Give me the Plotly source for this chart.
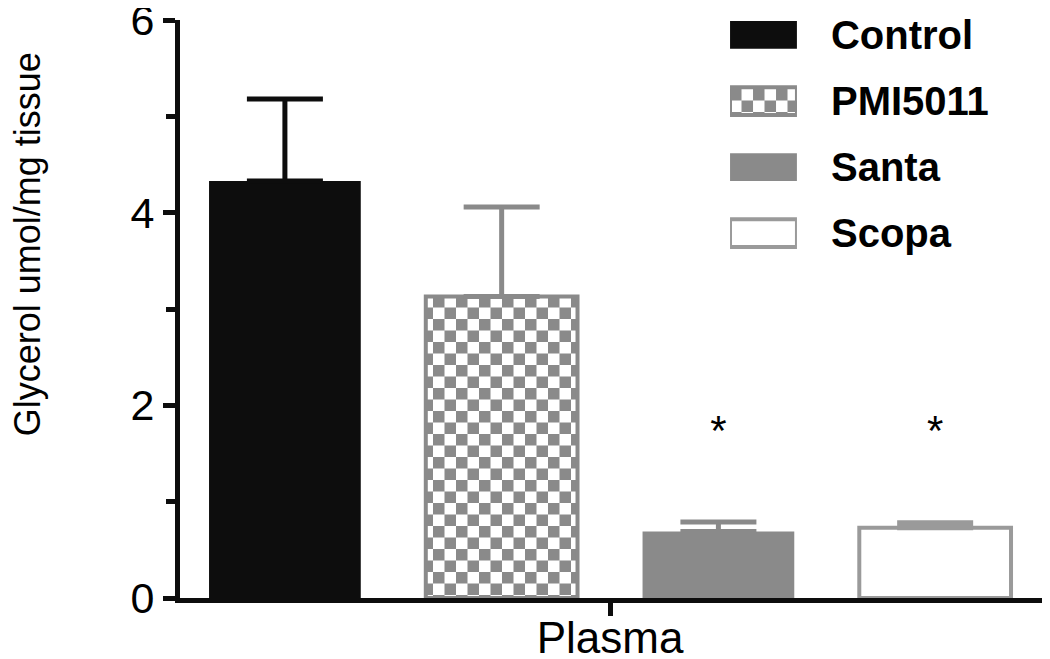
import plotly.graph_objects as go

# Values.
GROUP = "Plasma"
SERIES = ["Control", "PMI5011", "Santa", "Scopa"]
MEANS = [4.33, 3.13, 0.69, 0.73]
ERR_UP = [0.85, 0.93, 0.10, 0.05]
SIG_TEXT = ["", "", "*", "*"]
SIG_Y = [None, None, 1.70, 1.70]
Y_TICKS = [0, 2, 4, 6]
Y_TITLE = "Glycerol umol/mg tissue"

FONT = "Liberation Sans, Arial, sans-serif"
BLACK = "#0d0d0d"
GRAY = "#8a8a8a"
LIGHT = "#9a9a9a"

# checkerboard tile for the PMI5011 fill
CHECKER = "M0,0H11.5V11.5H0Z M11.5,11.5H23V23H11.5Z"

STYLES = {
    "Control": dict(color=BLACK, line=dict(color=BLACK, width=0)),
    "PMI5011": dict(color="white", line=dict(color=GRAY, width=4),
                    pattern=dict(path=CHECKER, size=23, fgcolor=GRAY, bgcolor="white",
                                 fillmode="replace", solidity=1)),
    "Santa": dict(color=GRAY, line=dict(color=GRAY, width=0)),
    "Scopa": dict(color="white", line=dict(color=LIGHT, width=4)),
}
ERR_COLOR = {"Control": BLACK, "PMI5011": GRAY, "Santa": GRAY, "Scopa": LIGHT}

fig = go.Figure()
for i, name in enumerate(SERIES):
    fig.add_bar(
        x=[GROUP], y=[MEANS[i]], name=name, marker=STYLES[name], offsetgroup=str(i),
        error_y=dict(type="data", array=[ERR_UP[i]], arrayminus=[0], symmetric=False,
                     color=ERR_COLOR[name], thickness=5, width=38),
        showlegend=False,
    )
    fig.add_scatter(
        x=[GROUP], y=[SIG_Y[i]], mode="text", text=[SIG_TEXT[i]], offsetgroup=str(i),
        textfont=dict(family=FONT, size=42, color="black"), showlegend=False,
    )

# legend drawn as swatch bars on a small hidden axis pair
for name in SERIES:
    fig.add_bar(
        x=[1], y=[name], orientation="h", marker=STYLES[name], width=0.42, offset=-0.21,
        xaxis="x2", yaxis="y2", cliponaxis=False, showlegend=False,
    )

fig.add_annotation(
    text=Y_TITLE, textangle=-90, x=-0.175, y=0.6125, xref="paper", yref="paper",
    xanchor="center", yanchor="middle", showarrow=False,
    font=dict(family=FONT, size=36, color="black"),
)

# the page body adds an 8 px offset, so margins are shifted by that amount
fig.update_layout(
    width=1050, height=659, margin=dict(l=172, r=11, t=12, b=69),
    plot_bgcolor="white", paper_bgcolor="white",
    barmode="group", bargap=0, bargroupgap=0.30, scattermode="group",
    font=dict(family=FONT, color="black"),
    xaxis=dict(
        range=[-0.496, 0.504], showline=True, linewidth=5, linecolor=BLACK,
        ticks="outside", ticklen=13, tickwidth=5, tickcolor=BLACK,
        tickfont=dict(size=44), ticklabelstandoff=-16, ticklabeloverflow="allow",
        showgrid=False, zeroline=False, automargin=False,
    ),
    yaxis=dict(
        range=[0, 6], tickvals=Y_TICKS, showline=True, linewidth=5, linecolor=BLACK,
        ticks="outside", ticklen=12, tickwidth=5, tickcolor=BLACK,
        minor=dict(dtick=1, ticks="outside", ticklen=9, tickwidth=5, tickcolor=BLACK),
        tickfont=dict(size=43), ticklabeloverflow="allow",
        showgrid=False, zeroline=False, automargin=False,
    ),
    xaxis2=dict(domain=[0.6344, 0.7116], range=[0, 1], anchor="y2", visible=False),
    yaxis2=dict(
        domain=[0.574, 1.0], range=[3.5, -0.227], anchor="x2", side="right",
        categoryorder="array", categoryarray=SERIES, showline=False, showgrid=False,
        zeroline=False, ticks="", ticklabelstandoff=33, automargin=False,
        tickfont=dict(family=FONT, size=40, weight="bold", color="black"),
    ),
)

fig.write_html("out.html")
